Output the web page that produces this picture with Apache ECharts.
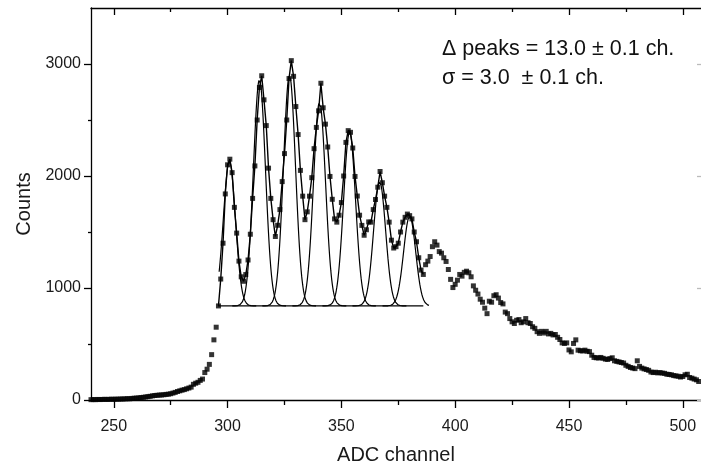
<!DOCTYPE html>
<html><head><meta charset="utf-8">
<script src="https://cdn.jsdelivr.net/npm/echarts@6/dist/echarts.min.js"></script>
<style>html,body{margin:0;padding:0;background:#fff}#chart{width:701px;height:470px}</style>
</head><body><div id="chart"></div>
<script>
// ---- data ----
const channelStart = 240; // first ADC channel of the counts array (one value per channel)
const counts = [
  3, 4, 3, 5, 4, 5, 6, 5, 6, 7,
  6, 8, 7, 9, 9, 10, 12, 11, 14, 16,
  17, 19, 22, 24, 27, 30, 33, 37, 40, 42,
  44, 45, 47, 50, 52, 56, 62, 68, 76, 82,
  88, 93, 100, 107, 115, 140, 150, 158, 175, 187,
  245, 275, 318, 405, 537, 650, 840, 1080, 1400, 1840,
  2100, 2150, 2030, 1720, 1490, 1240, 1100, 1060, 1120, 1250,
  1480, 1800, 2090, 2500, 2790, 2895, 2680, 2450, 2070, 1800,
  1610, 1460, 1560, 1700, 1950, 2200, 2500, 2870, 3030, 2890,
  2620, 2370, 2050, 1820, 1610, 1680, 1820, 1985, 2244, 2434,
  2582, 2828, 2609, 2463, 2259, 1996, 1792, 1617, 1588, 1650,
  1763, 2000, 2300, 2405, 2390, 2250, 1996, 1821, 1650, 1559,
  1471, 1520, 1590, 1588, 1700, 1790, 1900, 2040, 1940, 1820,
  1720, 1588, 1427, 1357, 1369, 1400, 1500, 1588, 1631, 1660,
  1646, 1617, 1500, 1413, 1270, 1160, 1121, 1208, 1240, 1281,
  1369, 1413, 1383, 1325, 1311, 1270, 1237, 1165, 1077, 1004,
  1033, 1070, 1121, 1106, 1140, 1150, 1136, 1100, 1019, 980,
  946, 900, 873, 820, 771, 882, 873, 931, 940, 910,
  870, 858, 785, 771, 727, 698, 683, 712, 718, 690,
  698, 727, 690, 683, 654, 640, 610, 595, 613, 598,
  613, 590, 595, 581, 585, 560, 540, 510, 505, 510,
  447, 430, 505, 537, 445, 440, 438, 445, 435, 432,
  400, 380, 377, 375, 380, 372, 365, 362, 370, 377,
  350, 345, 340, 335, 330, 310, 300, 290, 285, 280,
  350, 300, 285, 278, 272, 265, 250, 245, 248, 242,
  245, 240, 238, 230, 228, 225, 218, 215, 212, 205,
  210, 225, 230, 201, 195, 187, 180, 165
];
const connectedRange = [296, 386];          // channels joined by a line in the fit region
const xTickValues = [250, 300, 350, 400, 450, 500];
const xMinorTickValues = [275, 325, 375, 425, 475];
const yTickValues = [0, 1000, 2000, 3000];
const yMinorTickValues = [500, 1500, 2500];
// Gaussian fit components
const peakCenters = [300.8, 314.0, 327.2, 340.4, 353.6, 366.8, 380.0];
const peakTops = [2130, 2860, 2900, 2660, 2390, 1950, 1640];
const fitBaseline = 840;
const fitSigma = 2.65;
const fitRange = [296.3, 388.5];
const baselineRange = [295.8, 386];
const annotationLines = ['Δ peaks = 13.0 ± 0.1 ch.', 'σ = 3.0  ± 0.1 ch.'];
const xTitle = 'ADC channel';
const yTitle = 'Counts';

// ---- build series ----
const points = counts.map((v, i) => [channelStart + i, v]);
const connected = points.filter(p => p[0] >= connectedRange[0] && p[0] <= connectedRange[1]);
const gaussSeries = peakCenters.map((c, k) => {
  const pts = [];
  const lo = Math.max(fitRange[0], c - 4.5 * fitSigma);
  const hi = Math.min(fitRange[1], c + 4.5 * fitSigma);
  for (let x = lo; x <= hi + 1e-9; x += 0.1) {
    const g = Math.exp(-Math.pow((x - c) / fitSigma, 2) / 2);
    pts.push([x, fitBaseline + (peakTops[k] - fitBaseline) * g]);
  }
  return {
    type: 'line', data: pts, showSymbol: false, symbol: 'none', smooth: false,
    lineStyle: { color: '#000', width: 1.2 }, z: 3, silent: true, animation: false
  };
});

const FONT = '"Liberation Sans", Arial, sans-serif';
const axisBlack = { color: '#000', width: 1.3 };
const plain = v => String(v);
function xAx(pos, ticks, len, inside, main) {
  return {
    type: 'value', position: pos, min: 240, max: 508,
    axisLine: { show: main, onZero: false, lineStyle: axisBlack },
    axisTick: { show: true, customValues: ticks, length: len, inside: inside, lineStyle: axisBlack },
    axisLabel: (pos === 'bottom' && main) ? { show: true, customValues: ticks, formatter: plain, fontSize: 16, color: '#1a1a1a', margin: 19, fontFamily: FONT } : { show: false },
    splitLine: { show: false },
    name: (pos === 'bottom' && main) ? xTitle : '',
    nameLocation: 'middle', nameGap: 45,
    nameTextStyle: { fontSize: 20, color: '#1a1a1a', fontFamily: FONT }
  };
}
function yAx(pos, ticks, len, inside, main, color) {
  return {
    type: 'value', position: pos, min: 0, max: 3500,
    axisLine: { show: main && pos === 'left', onZero: false, lineStyle: axisBlack },
    axisTick: { show: true, customValues: ticks, length: len, inside: inside, lineStyle: { color: color, width: 1.3 } },
    axisLabel: (pos === 'left' && main) ? { show: true, customValues: ticks, formatter: plain, fontSize: 16, color: '#1a1a1a', margin: 10, fontFamily: FONT } : { show: false },
    splitLine: { show: false },
    name: (pos === 'left' && main) ? yTitle : '',
    nameLocation: 'middle', nameGap: 56, nameRotate: 90,
    nameTextStyle: { fontSize: 20, color: '#1a1a1a', fontFamily: FONT }
  };
}

const chart = echarts.init(document.getElementById('chart'), null, { renderer: 'canvas' });
chart.setOption({
  animation: false,
  backgroundColor: '#fff',
  grid: { left: 91, right: 0, top: 8, bottom: 62, containLabel: false },
  xAxis: [
    xAx('bottom', xTickValues, 8, false, true),
    xAx('bottom', xMinorTickValues, 5, false, false),
    xAx('top', xTickValues, 7, true, true),
    xAx('top', xMinorTickValues, 4, true, false)
  ],
  yAxis: [
    yAx('left', yTickValues, 7, false, true, '#000'),
    yAx('left', yMinorTickValues, 3, false, false, '#000'),
    yAx('right', yTickValues, 4, true, true, '#bbb')
  ],
  graphic: [
    { type: 'text', left: 442, top: 38, style: { text: annotationLines[0], font: '21.5px ' + FONT, fill: '#111' } },
    { type: 'text', left: 442, top: 67, style: { text: annotationLines[1], font: '21.5px ' + FONT, fill: '#111' } }
  ],
  series: [
    ...gaussSeries,
    {
      type: 'line', data: [[baselineRange[0], fitBaseline], [baselineRange[1], fitBaseline]],
      showSymbol: false, symbol: 'none', lineStyle: { color: '#000', width: 1.2 }, z: 3, silent: true
    },
    {
      type: 'line', data: connected, showSymbol: false, symbol: 'none',
      lineStyle: { color: '#000', width: 1.4 }, z: 4, silent: true
    },
    {
      type: 'scatter', data: points, symbol: 'rect', symbolSize: 5,
      itemStyle: { color: '#000' }, z: 5, silent: true
    }
  ]
});
</script>
</body></html>
